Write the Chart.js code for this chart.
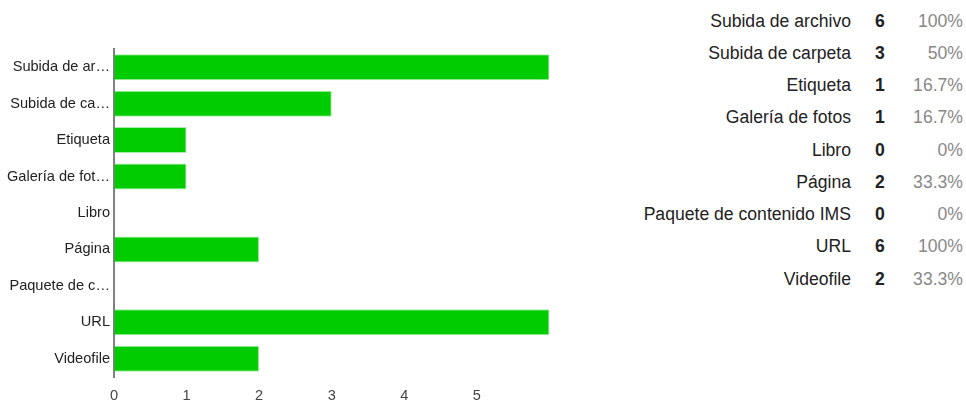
<!DOCTYPE html>
<html>
<head>
<meta charset="utf-8">
<script src="https://cdn.jsdelivr.net/npm/chart.js@4"></script>
<style>
  html, body { margin: 0; padding: 0; background: #fff; }
  body { width: 966px; height: 403px; position: relative; overflow: hidden;
         font-family: "Liberation Sans", Arial, sans-serif; }
  #chartBox { position: absolute; left: 0; top: 0; width: 560px; height: 403px; }
  #summary { position: absolute; left: 600px; top: 4.5px; width: 366px; }
  .row { position: relative; height: 32.25px; line-height: 32.25px; font-size: 17.6px; }
  .row .name { position: absolute; right: 115px; color: #222; white-space: nowrap; }
  .row .count { position: absolute; left: 270px; width: 20px; text-align: center; font-weight: bold; color: #222; }
  .row .pct { position: absolute; right: 3px; color: #888; }
</style>
</head>
<body>
<div id="chartBox"><canvas id="myChart"></canvas></div>
<div id="summary"></div>
<script>
const categories = ['Subida de archivo', 'Subida de carpeta', 'Etiqueta', 'Galería de fotos', 'Libro',
                    'Página', 'Paquete de contenido IMS', 'URL', 'Videofile'];
// shortened names shown on the bar axis
const axisLabels = ['Subida de ar…', 'Subida de ca…', 'Etiqueta', 'Galería de fot…', 'Libro',
                    'Página', 'Paquete de c…', 'URL', 'Videofile'];
const counts = [6, 3, 1, 1, 0, 2, 0, 6, 2];
const xTicks = [0, 1, 2, 3, 4, 5];

// summary list on the right
const total = Math.max(...counts);
const summary = document.getElementById('summary');
categories.forEach((name, i) => {
  const pct = Math.round(counts[i] / total * 1000) / 10;
  const row = document.createElement('div');
  row.className = 'row';
  row.innerHTML = '<span class="name">' + name + '</span>' +
                  '<span class="count">' + counts[i] + '</span>' +
                  '<span class="pct">' + pct + '%</span>';
  summary.appendChild(row);
});

const font = { family: '"Liberation Sans", Arial, sans-serif', size: 14.6 };
const ctx = document.getElementById('myChart');
const myChart = new Chart(ctx, {
  type: 'bar',
  data: {
    labels: axisLabels,
    datasets: [{
      data: counts,
      backgroundColor: '#00cc00',
      borderColor: 'rgba(0, 204, 0, 0.35)',
      borderWidth: 1,
      borderSkipped: false,
      barPercentage: 0.714,
      categoryPercentage: 1
    }]
  },
  options: {
    indexAxis: 'y',
    responsive: true,
    maintainAspectRatio: false,
    animation: false,
    layout: { padding: { top: 49, right: 10.5, bottom: 0, left: 0 } },
    plugins: { legend: { display: false }, tooltip: { enabled: false } },
    scales: {
      x: {
        min: 0,
        max: 6,
        grid: { display: false, drawTicks: false },
        border: { display: false },
        afterFit: (scale) => { scale.height = 26; },
        afterBuildTicks: (scale) => { scale.ticks = xTicks.map(v => ({ value: v })); },
        ticks: { color: '#444', font: font, padding: 10 }
      },
      y: {
        grid: { display: false, drawTicks: false },
        border: { display: true, color: '#808080', width: 2 },
        afterFit: (scale) => { scale.width = 114; },
        ticks: { color: '#222', font: font, padding: 4, autoSkip: false }
      }
    }
  }
});
</script>
</body>
</html>
